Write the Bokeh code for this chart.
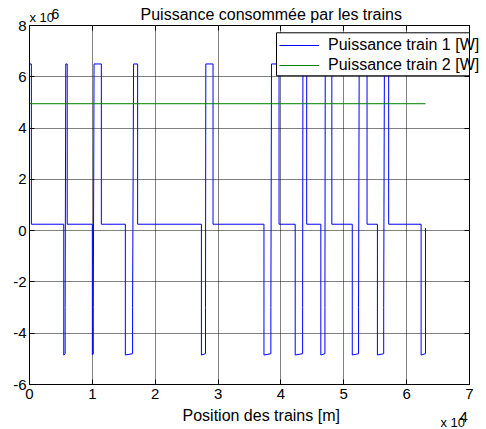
from bokeh.plotting import figure
from bokeh.models import (Range1d, FixedTicker, LinearAxis, Legend, LegendItem,
                          Label, BoxAnnotation, Grid)
from bokeh.embed import file_html
from bokeh.resources import INLINE

# ---------------- data (x in 1e4 m, y in 1e6 W) ----------------
x_ticks = [0, 1, 2, 3, 4, 5, 6, 7]
y_ticks = [-6, -4, -2, 0, 2, 4, 6, 8]
x_tick_labels = ["0", "1", "2", "3", "4", "5", "6", "7"]
y_tick_labels = ["-6", "-4", "-2", "0", "2", "4", "6", "8"]

# train 1: positions of the phases of each inter-station run
accel_start = [0.000, 0.577, 1.027, 1.656, 2.805, 3.850, 4.350, 4.705, 5.245, 5.646]
accel_end   = [0.030, 0.600, 1.143, 1.720, 2.920, 3.970, 4.410, 4.810, 5.370, 5.714]
brake_start = [0.545, 1.000, 1.525, 2.735, 3.730, 4.227, 4.635, 5.135, 5.535, 6.230]
stop_pos    = [0.567, 1.015, 1.640, 2.800, 3.840, 4.345, 4.700, 5.235, 5.635, 6.300]
p_high = 6.50
p_cruise = 0.25
p_brake_start = -4.85
p_brake_end = -4.80
p_restart = -3.00
p_initial = 0.75
p_final = 0.10

# train 2
train2_x = [0.0, 6.30]
train2_y = [4.95, 4.95]

# build train 1 path from the phase tables
t1x, t1y = [0.0], [p_initial]
n = len(accel_start)
for i in range(n):
    t1x += [accel_start[i], accel_end[i], accel_end[i]]
    t1y += [p_high, p_high, p_cruise]
    t1x += [brake_start[i], brake_start[i], stop_pos[i], stop_pos[i]]
    t1y += [p_cruise, p_brake_start, p_brake_end,
            p_restart if i < n - 1 else p_final]

# ---------------- layout (pixels) ----------------
W, H = 486, 429
BOX_L, BOX_R, BOX_T, BOX_B = 29, 469, 25, 384   # axes box in canvas pixels

xs_per_px = (x_ticks[-1] - x_ticks[0]) / (BOX_R - BOX_L)
ys_per_px = (y_ticks[-1] - y_ticks[0]) / (BOX_B - BOX_T)

def px_x(px):
    return x_ticks[0] + (px - BOX_L) * xs_per_px

def px_y(py):
    return y_ticks[0] + (BOX_B - py) * ys_per_px

p = figure(width=W, height=H,
           x_range=Range1d(px_x(0), px_x(W)), y_range=Range1d(px_y(H), px_y(0)),
           output_backend="svg", toolbar_location=None, title=None,
           min_border_left=0, min_border_right=0, min_border_top=0, min_border_bottom=0)
p.background_fill_color = "white"
p.border_fill_color = "white"
p.outline_line_color = None

FONT = "Liberation Sans"

def style_axis(ax, ticks, tick_labels, loc, bounds, labels=True):
    ax.ticker = FixedTicker(ticks=ticks)
    ax.fixed_location = loc
    ax.bounds = bounds
    ax.axis_line_color = "black"
    ax.axis_line_width = 1
    ax.major_tick_line_color = "black"
    ax.major_tick_in = 5
    ax.major_tick_out = 0
    ax.minor_tick_line_color = None
    ax.major_label_text_font = FONT
    ax.major_label_text_font_size = "15px"
    ax.major_label_text_color = "black"
    if labels:
        ax.major_label_overrides = {t: s for t, s in zip(ticks, tick_labels)}
    else:
        ax.major_label_overrides = {t: "" for t in ticks}
        ax.major_label_standoff = 0

xb = (x_ticks[0], x_ticks[-1])
yb = (y_ticks[0], y_ticks[-1])

style_axis(p.xaxis[0], x_ticks, x_tick_labels, y_ticks[0], xb)
p.xaxis[0].major_label_standoff = 4
style_axis(p.yaxis[0], y_ticks, y_tick_labels, x_ticks[0], yb)
p.yaxis[0].major_label_standoff = 3

top_ax = LinearAxis()
style_axis(top_ax, x_ticks, x_tick_labels, y_ticks[-1], xb, labels=False)
p.add_layout(top_ax, "above")
right_ax = LinearAxis()
style_axis(right_ax, y_ticks, y_tick_labels, x_ticks[-1], yb, labels=False)
p.add_layout(right_ax, "right")

has_cross = "cross_bounds" in Grid.properties()
if has_cross:
    p.xgrid[0].cross_bounds = yb
    p.ygrid[0].cross_bounds = xb
    for g in (p.xgrid[0], p.ygrid[0]):
        g.grid_line_color = "black"
        g.grid_line_alpha = 1.0
        g.grid_line_dash = "1 1"
        g.grid_line_width = 1
else:
    p.xgrid[0].visible = False
    p.ygrid[0].visible = False
    gx = [[t, t] for t in x_ticks[1:-1]] + [[xb[0], xb[1]] for t in y_ticks[1:-1]]
    gy = [[yb[0], yb[1]] for t in x_ticks[1:-1]] + [[t, t] for t in y_ticks[1:-1]]
    p.multi_line(gx, gy, line_color="black", line_alpha=1.0, line_dash="1 1", line_width=1)

r1 = p.line(t1x, t1y, line_color="#0000ff", line_width=1)
r2 = p.line(train2_x, train2_y, line_color="#008000", line_width=1)

# legend box + legend items
box = BoxAnnotation(left=px_x(276), right=x_ticks[-1], top=px_y(32.3), bottom=px_y(75.3),
                    fill_color="white", fill_alpha=1.0, line_color="black", line_width=1,
                    line_alpha=1.0)
p.add_layout(box)

legend = Legend(items=[LegendItem(label="Puissance train 1 [W]", renderers=[r1]),
                       LegendItem(label="Puissance train 2 [W]", renderers=[r2])],
                location=(279, H - 75))
legend.border_line_color = None
legend.background_fill_alpha = 0
legend.padding = 8
legend.spacing = 0
legend.margin = 0
legend.label_height = 20
legend.glyph_height = 20
legend.glyph_width = 40
legend.label_standoff = 9
legend.label_text_font = FONT
legend.label_text_font_size = "16px"
legend.label_text_color = "black"
p.add_layout(legend)

TEXT_SHIFT = 4.5   # Bokeh draws alphabetic-baseline labels slightly low

def add_text(txt, px, py, size):
    p.add_layout(Label(x=px_x(px), y=px_y(py - TEXT_SHIFT), text=txt, text_font=FONT,
                       text_font_size=size, text_color="black",
                       text_align="left", text_baseline="alphabetic"))

add_text("Puissance consommée par les trains", 140, 18, "16px")
add_text("Position des trains [m]", 182, 419.3, "16px")
add_text("x 10", 29, 21, "13px")
add_text("6", 51, 18.3, "14px")
add_text("x 10", 440, 426, "13px")
add_text("4", 459, 421, "15px")

open("out.html", "w").write(file_html(p, INLINE))
